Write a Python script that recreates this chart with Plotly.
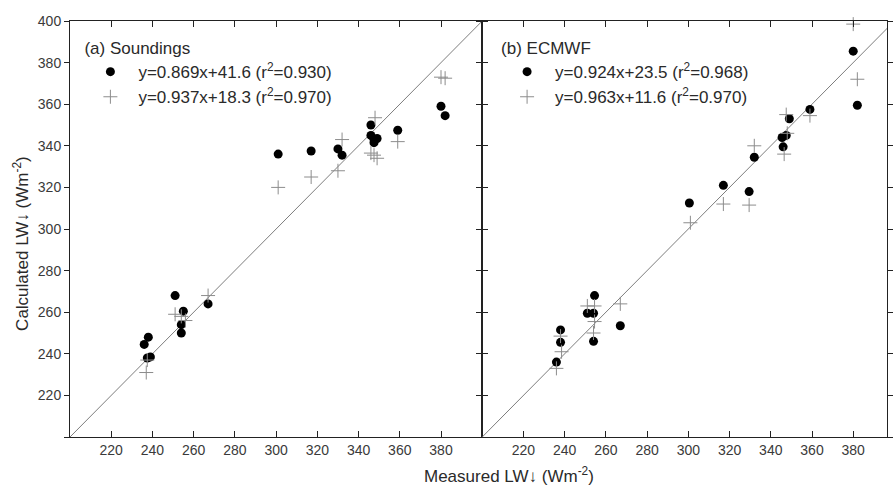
import plotly.graph_objects as go

# ---------------- data ----------------
one_to_one = [200, 400]

tick_vals = [200, 220, 240, 260, 280, 300, 320, 340, 360, 380, 400]
x_tick_text = ["", "220", "240", "260", "280", "300", "320", "340", "360", "380", ""]
y_tick_text = ["", "220", "240", "260", "280", "300", "320", "340", "360", "380", "400"]

# (a) Soundings
snd_dot_meas = [236, 238, 237.5, 239, 251, 255, 254, 254, 267, 301, 317, 330, 332,
                346, 346, 347.5, 349, 347.5, 359, 380, 382]
snd_dot_calc = [244.5, 248, 238, 238.5, 268, 260.5, 254, 250, 264, 336, 337.5, 338.5, 335.5,
                350, 345, 343, 343.5, 341.5, 347.5, 359, 354.5]
snd_crs_meas = [237, 237.5, 251, 254, 256, 267, 301, 317, 330, 332, 348, 346, 349,
                347.5, 359, 380, 382]
snd_crs_calc = [231, 237, 259, 258, 256, 268, 320, 325, 328, 343, 353.5, 336.5, 334,
                335.5, 342, 373, 372.5]

# (b) ECMWF
ec_dot_meas = [236, 238, 238, 251, 254, 254.5, 254, 267, 300.5, 317, 329.5, 332,
               346, 345.5, 347.5, 349, 359, 380, 382]
ec_dot_calc = [236, 251.5, 245.5, 259.5, 259.5, 268, 246, 253.5, 312.5, 321, 318, 334.5,
               339.5, 344, 345, 353, 357.5, 385.5, 359.5]
ec_crs_meas = [236, 238.5, 238, 251, 254.5, 254.5, 254, 267, 301, 317, 329.5, 332,
               346.5, 348, 347.5, 359, 382, 380]
ec_crs_calc = [233, 241, 248.5, 263, 263, 255.5, 250, 264, 303, 312, 311.5, 340,
               336, 346, 355, 354.5, 372, 398.5]

snd_dot_label = "y=0.869x+41.6 (r<sup>2</sup>=0.930)"
snd_crs_label = "y=0.937x+18.3 (r<sup>2</sup>=0.970)"
ec_dot_label = "y=0.924x+23.5 (r<sup>2</sup>=0.968)"
ec_crs_label = "y=0.963x+11.6 (r<sup>2</sup>=0.970)"

# ---------------- styles ----------------
FONT = "Liberation Sans, Arial, sans-serif"
TXT = "#2a2a2a"
dot_marker = dict(symbol="circle", size=9, color="#000000")
crs_marker = dict(symbol="cross-thin", size=10, color="#8c8c8c",
                  line=dict(width=1, color="#8c8c8c"))
line_style = dict(color="#7d7d7d", width=1)

fig = go.Figure()

# panel (a)
fig.add_trace(go.Scatter(x=one_to_one, y=one_to_one, mode="lines", line=line_style,
                         showlegend=False, hoverinfo="skip", xaxis="x", yaxis="y"))
fig.add_trace(go.Scatter(x=snd_dot_meas, y=snd_dot_calc, mode="markers", marker=dot_marker,
                         name=snd_dot_label, legend="legend",
                         xaxis="x", yaxis="y", cliponaxis=False))
fig.add_trace(go.Scatter(x=snd_crs_meas, y=snd_crs_calc, mode="markers", marker=crs_marker,
                         name=snd_crs_label, legend="legend",
                         xaxis="x", yaxis="y", cliponaxis=False))

# panel (b)
fig.add_trace(go.Scatter(x=one_to_one, y=one_to_one, mode="lines", line=line_style,
                         showlegend=False, hoverinfo="skip", xaxis="x2", yaxis="y2"))
fig.add_trace(go.Scatter(x=ec_dot_meas, y=ec_dot_calc, mode="markers", marker=dot_marker,
                         name=ec_dot_label, legend="legend2",
                         xaxis="x2", yaxis="y2", cliponaxis=False))
fig.add_trace(go.Scatter(x=ec_crs_meas, y=ec_crs_calc, mode="markers", marker=crs_marker,
                         name=ec_crs_label, legend="legend2",
                         xaxis="x2", yaxis="y2", cliponaxis=False))

ML, MR, MT, MB = 69.5, 0, 21, 50
W, H = 893, 487
pw = W - ML - MR
ph = H - MT - MB
split = (485 - ML) / pw
px_per_unit = (485 - ML) / 200.0
right_max = 200 + (W - 485) / px_per_unit

axis_common = dict(
    showgrid=False, zeroline=False, showline=True, linecolor="#222222", linewidth=1,
    mirror="ticks", tickmode="array", tickvals=tick_vals, tickcolor="#222222",
    tickfont=dict(family=FONT, size=14, color="#3a3a3a"),
)

legend_common = dict(
    xanchor="left", yanchor="top", bgcolor="rgba(0,0,0,0)", borderwidth=0,
    itemwidth=46, font=dict(family=FONT, size=17, color=TXT),
)

fig.update_layout(
    width=W, height=H,
    margin=dict(l=ML, r=MR, t=MT, b=MB),
    paper_bgcolor="white", plot_bgcolor="white",
    font=dict(family=FONT, color=TXT),
    xaxis=dict(axis_common, domain=[0, split], range=[200, 400], ticktext=x_tick_text,
               ticks="inside", ticklen=6, anchor="y"),
    yaxis=dict(axis_common, domain=[0, 1], range=[200, 400], ticktext=y_tick_text,
               ticks="outside", ticklen=5, anchor="x"),
    xaxis2=dict(axis_common, domain=[split, 1], range=[200, right_max], ticktext=x_tick_text,
                ticks="inside", ticklen=6, anchor="y2"),
    yaxis2=dict(axis_common, domain=[0, 1], range=[200, 400], ticktext=y_tick_text,
                showticklabels=False, ticks="outside", ticklen=5, anchor="x2"),
    legend=dict(legend_common,
                x=(82 - ML) / pw, y=1 - (32 - MT) / ph,
                title=dict(text="(a) Soundings", font=dict(family=FONT, size=17, color=TXT))),
    legend2=dict(legend_common,
                 x=(502 - ML) / pw, y=1 - (32 - MT) / ph,
                 title=dict(text="(b) ECMWF", font=dict(family=FONT, size=17, color=TXT))),
    annotations=[
        dict(text="Measured LW↓ (Wm<sup>-2</sup>)", xref="paper", yref="paper",
             x=(512 - ML) / pw, y=(H - MB - 475) / ph, xanchor="center", yanchor="middle",
             showarrow=False, font=dict(family=FONT, size=17, color=TXT)),
        dict(text="Calculated LW↓ (Wm<sup>-2</sup>)", xref="paper", yref="paper",
             x=(20 - ML) / pw, y=(H - MB - 243) / ph, xanchor="center", yanchor="middle",
             textangle=-90, showarrow=False, font=dict(family=FONT, size=17, color=TXT)),
    ],
)

fig.write_html("out.html", config={"displayModeBar": False},
               post_script="document.body.style.margin='0px';")
